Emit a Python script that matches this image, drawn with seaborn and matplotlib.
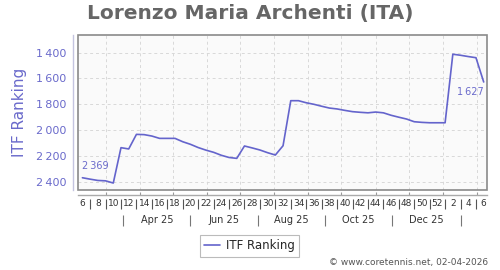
import matplotlib
matplotlib.use("Agg")
import matplotlib.pyplot as plt
import matplotlib.dates as mdates
from matplotlib.patches import Rectangle
import seaborn as sns
import pandas as pd

# ---------------- data ----------------
start_date = "2025-02-23"
ranking = [2369, 2380, 2390, 2393, 2410, 2136, 2146, 2033, 2035, 2046,
           2064, 2064, 2064, 2090, 2110, 2135, 2155, 2172, 2195, 2212,
           2219, 2123, 2138, 2154, 2175, 2193, 2121, 1772, 1772, 1788,
           1800, 1815, 1829, 1836, 1847, 1857, 1862, 1866, 1860, 1866,
           1885, 1900, 1914, 1935, 1940, 1943, 1943, 1943, 1412, 1420,
           1430, 1439, 1627]
week_labels = ["6", "8", "10", "12", "14", "16", "18", "20", "22", "24",
               "26", "28", "30", "32", "34", "36", "38", "40", "42", "44",
               "46", "48", "50", "52", "2", "4", "6"]
month_labels = ["Apr 25", "Jun 25", "Aug 25", "Oct 25", "Dec 25"]
month_bounds = ["2025-04-01", "2025-06-01", "2025-08-01", "2025-10-01",
                "2025-12-01", "2026-02-01"]
grid_dates = ["2025-03-16", "2025-04-16", "2025-05-16", "2025-06-16",
              "2025-07-16", "2025-08-16", "2025-09-16", "2025-10-16",
              "2025-11-16", "2025-12-16", "2026-01-16", "2026-02-16"]
y_ticks = [1400, 1600, 1800, 2000, 2200, 2400]
series_name = "ITF Ranking"
title = "Lorenzo Maria Archenti (ITA)"
credit = "\u00a9 www.coretennis.net, 02-04-2026"

dates = pd.date_range(start_date, periods=len(ranking), freq="7D")
df = pd.DataFrame({"date": dates, "rank": ranking})

# ---------------- style ----------------
sns.set_style("white")
plt.rcParams["font.family"] = ["DejaVu Sans"]

LINE = "#6464cc"
LABEL = "#6a6acb"

def fmt(v):
    return f"{v:,}".replace(",", "\u2009")

fig = plt.figure(figsize=(5, 2.7), dpi=100)
ax = fig.add_axes([78 / 500, 80 / 270, 409 / 500, 155 / 270])

sns.lineplot(data=df, x="date", y="rank", ax=ax, color=LINE, lw=1.2,
             label=series_name)
ax.get_legend().remove()

ax.set_xlim(dates[0] - pd.Timedelta(days=4), dates[-1] + pd.Timedelta(days=3))
ax.set_ylim(2464, 1263)
ax.set_facecolor("#fafafa")
ax.set_xlabel("")

# frame + outer axis lines
for s in ax.spines.values():
    s.set_visible(False)
ax.add_patch(Rectangle((0, 0), 1, 1, transform=ax.transAxes, fill=False,
                       ec="#8a8a8a", lw=1.2, clip_on=False, zorder=5))
ax.spines["left"].set_visible(True)
ax.spines["left"].set_position(("outward", 3.8))
ax.spines["left"].set_color("#c4c4e0")
ax.spines["left"].set_linewidth(1.0)
ax.spines["bottom"].set_visible(True)
ax.spines["bottom"].set_position(("outward", 3.3))
ax.spines["bottom"].set_color("#aaaaaa")
ax.spines["bottom"].set_linewidth(1.0)

# grid
gd = mdates.date2num(pd.to_datetime(grid_dates))
ax.set_xticks(gd)
ax.tick_params(axis="x", which="major", direction="in", length=2,
               color="#999999", labelbottom=False, bottom=True)
ax.set_yticks(y_ticks, labels=[fmt(v) for v in y_ticks])
ax.tick_params(axis="y", length=0, pad=4.5, labelsize=8, labelcolor=LABEL)
ax.grid(True, ls=(0, (3, 3)), color="#d8d8d8", lw=0.7)
ax.set_axisbelow(True)

ax.set_ylabel(series_name, fontsize=11, color=LABEL)
ax.yaxis.set_label_coords((27.5 - 78) / 409, 0.5)

# week label row
sec1 = ax.secondary_xaxis(-(199 - 190) / 155)
sec1.spines["bottom"].set_visible(False)
sec1.set_xticks(mdates.date2num(dates[::2]), labels=week_labels)
sec1.set_xticks(mdates.date2num(dates[1::2]), minor=True)
sec1.tick_params(which="major", length=0, pad=0.2, labelsize=6.5,
                 labelcolor="#333333")
sec1.tick_params(which="minor", length=7.4, width=0.8, color="#555555",
                 direction="out", labelbottom=False)

# month label row
mb = pd.to_datetime(month_bounds)
mids = mb[:-1] + (mb[1:] - mb[:-1]) / 2
sec2 = ax.secondary_xaxis(-(215 - 190) / 155)
sec2.spines["bottom"].set_visible(False)
sec2.set_xticks(mdates.date2num(mids), labels=month_labels)
sec2.set_xticks(mdates.date2num(mb), minor=True)
sec2.tick_params(which="major", length=0, pad=0.3, labelsize=7,
                 labelcolor="#333333")
sec2.tick_params(which="minor", length=8, width=0.8, color="#777777",
                 direction="out", labelbottom=False)

# point labels
ax.annotate(fmt(ranking[0]), (dates[0], ranking[0]), xytext=(0, 4.5),
            textcoords="offset points", ha="left", va="bottom",
            fontsize=7, color=LABEL)
ax.annotate(fmt(ranking[-1]), (dates[-1], ranking[-1]), xytext=(0, -3.5),
            textcoords="offset points", ha="right", va="top",
            fontsize=7, color=LABEL)

# title, legend, credit
fig.text(0.5, 1 - 13 / 270, title, ha="center", va="center", fontsize=14.5,
         fontweight="bold", color="#666666")
handles, labels = ax.get_legend_handles_labels()
leg = fig.legend(handles, labels, loc="center",
                 bbox_to_anchor=(249.5 / 500, 1 - 246 / 270),
                 frameon=True, fancybox=False, edgecolor="#aaaaaa",
                 fontsize=8.5, handlelength=1.3, handletextpad=0.5,
                 borderpad=0.4, borderaxespad=0)
leg.get_frame().set_linewidth(0.8)
fig.text(488 / 500, 1 - 263 / 270, credit, ha="right", va="center",
         fontsize=6.5, color="#555555")

fig.savefig("out.png", dpi=100, facecolor="white")
